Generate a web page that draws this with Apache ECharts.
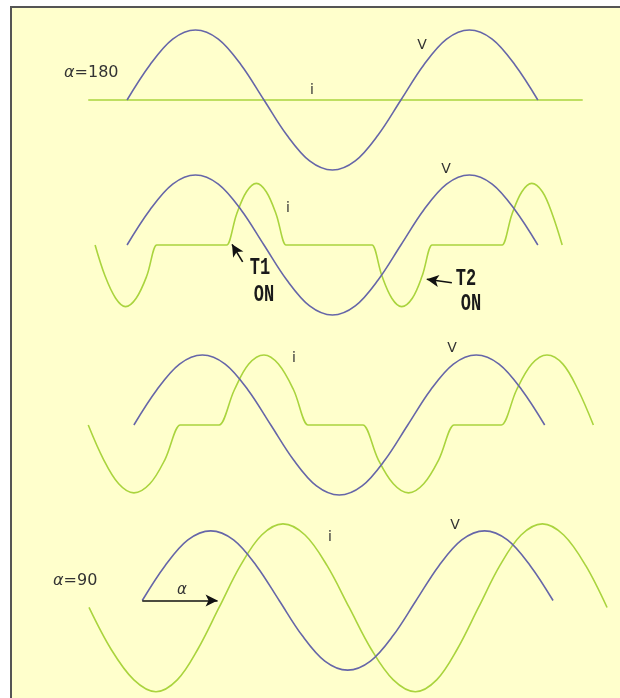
<!DOCTYPE html>
<html>
<head>
<meta charset="utf-8">
<script src="https://cdn.jsdelivr.net/npm/echarts@6/dist/echarts.min.js"></script>
<style>
  html, body { margin: 0; padding: 0; background: #ffffff; }
  #chart { width: 620px; height: 698px; }
</style>
</head>
<body>
<div id="chart"></div>
<script>
// x = phase in degrees (0 = start of the voltage wave), y = amplitude (1 = voltage peak)

// panel 1 : alpha = 180
const v1 = [[0,0],[30,0.5],[60,0.87],[90,1],[120,0.87],[150,0.5],[180,0],[210,-0.5],[240,-0.87],[270,-1],
  [300,-0.87],[330,-0.5],[360,0],[390,0.5],[420,0.87],[450,1],[480,0.87],[510,0.5],[540,0]];
const i1 = [[-51,0],[599,0]];

// panel 2 : T1 / T2 firing
const v2 = [[0,0],[30,0.5],[60,0.87],[90,1],[120,0.87],[150,0.5],[180,0],[210,-0.5],[240,-0.87],[270,-1],
  [300,-0.87],[330,-0.5],[360,0],[390,0.5],[420,0.87],[450,1],[480,0.87],[510,0.5],[540,0]];
const i2 = [[-42,0],[-29,-0.44],[-15,-0.76],[-2,-0.88],[12,-0.76],[26,-0.44],[39,0],[41,0],
  [129,0],[131,0],[144,0.44],[157,0.76],[170,0.88],[183,0.76],[196,0.44],[209,0],[211,0],
  [320,0],[322,0],[335,-0.44],[348,-0.76],[361,-0.88],[375,-0.76],[388,-0.44],[401,0],[403,0],
  [491,0],[493,0],[506,0.44],[519,0.76],[532,0.88],[546,0.76],[559,0.44],[572,0]];

// panel 3
const v3 = [[9,0],[39,0.5],[69,0.87],[99,1],[129,0.87],[159,0.5],[189,0],[219,-0.5],[249,-0.87],[279,-1],
  [309,-0.87],[339,-0.5],[369,0],[399,0.5],[429,0.87],[459,1],[489,0.87],[519,0.5],[549,0]];
const i3 = [[-51,0],[-31,-0.49],[-11,-0.84],[9,-0.97],[30,-0.84],[50,-0.49],[70,0],[72,0],
  [119,0],[121,0],[141,0.5],[160,0.87],[180,1],[199,0.87],[219,0.5],[238,0],[240,0],
  [308,0],[310,0],[330,-0.49],[350,-0.84],[370,-0.97],[390,-0.84],[410,-0.49],[430,0],[432,0],
  [490,0],[492,0],[512,0.5],[532,0.87],[552,1],[573,0.87],[593,0.5],[613,0]];

// panel 4 : alpha = 90
const v4 = [[20,0],[50,0.5],[80,0.87],[110,1],[140,0.87],[170,0.5],[200,0],[230,-0.5],[260,-0.87],[290,-1],
  [320,-0.87],[350,-0.5],[380,0],[410,0.5],[440,0.87],[470,1],[500,0.87],[530,0.5],[560,0]];
const i4 = [[-50,-0.1],[-21,-0.7],[9,-1.14],[38,-1.31],[66,-1.14],[93,-0.7],[121,-0.1],[149,0.5],
  [177,0.94],[205,1.1],[234,0.94],[263,0.5],[292,-0.1],[321,-0.7],[350,-1.14],[379,-1.31],
  [407,-1.14],[434,-0.7],[462,-0.1],[490,0.5],[518,0.94],[546,1.1],[574,0.94],[603,0.5],[631,-0.1]];

// arrows (first point = tip)
const t1Arrow = [[138, 0.01], [152, -0.24]];
const t2Arrow = [[394, -0.49], [427, -0.54]];
const alphaArrow = [[20, 0], [119, 0]];

const panelZero = [100, 245, 425, 601];

const blue = '#6666a8';
const green = '#aad43e';

const chart = echarts.init(document.getElementById('chart'));

const grids = panelZero.map(z => ({ left: 0, right: 0, top: z - 98, height: 196 }));
const xAxes = panelZero.map((z, k) => ({ type: 'value', gridIndex: k, min: -167, max: 648, show: false }));
const yAxes = panelZero.map((z, k) => ({ type: 'value', gridIndex: k, min: -1.4, max: 1.4, show: false }));

function wave(data, k, color, extra) {
  return Object.assign({
    type: 'line', xAxisIndex: k, yAxisIndex: k, data: data,
    smooth: 0.35, showSymbol: false, silent: true,
    lineStyle: { color: color, width: 1.6 }
  }, extra || {});
}

function arrows(list, symbol) {
  return {
    silent: true,
    symbol: symbol,
    symbolSize: [9, 12],
    label: { show: false },
    lineStyle: { color: '#111', width: 1.6, type: 'solid' },
    data: list.map(p => [{ coord: p[0] }, { coord: p[1] }])
  };
}

const SANS = '"DejaVu Sans", Verdana, sans-serif';

const sansText = (text, x, y) => ({
  type: 'text', x: x, y: y, z: 50,
  style: { text: text, fill: '#333', font: '14px ' + SANS, align: 'center', verticalAlign: 'middle' }
});
const monoText = (text, x, y) => ({
  type: 'text', x: x, y: y, z: 50, scaleY: 1.4,
  style: { text: text, fill: '#1a1a1a', font: 'bold 17px "Liberation Mono", monospace',
    align: 'center', verticalAlign: 'middle' }
});
const alphaText = (text, x, y) => ({
  type: 'text', x: x, y: y, z: 50,
  style: {
    text: '{a|α}{b|' + text + '}', verticalAlign: 'middle',
    rich: {
      a: { fill: '#333', font: 'italic 16px ' + SANS },
      b: { fill: '#333', font: '16px ' + SANS }
    }
  }
});

const option = {
  animation: false,
  backgroundColor: '#ffffff',
  grid: grids,
  xAxis: xAxes,
  yAxis: yAxes,
  graphic: [
    { type: 'rect', z: -10, shape: { x: 11, y: 7, width: 620, height: 700 },
      style: { fill: '#ffffcc', stroke: '#555', lineWidth: 2 } },
    alphaText('=180', 64, 73),
    sansText('V', 422, 45),
    sansText('i', 312, 90),
    sansText('V', 446, 169),
    sansText('i', 288, 208),
    monoText('T1', 260, 268),
    monoText('ON', 264, 295),
    monoText('T2', 466, 279),
    monoText('ON', 471, 304),
    sansText('i', 294, 358),
    sansText('V', 452, 348),
    alphaText('=90', 53, 581),
    { type: 'text', x: 182, y: 590, z: 50,
      style: { text: 'α', fill: '#333', font: 'italic 15px ' + SANS, align: 'center', verticalAlign: 'middle' } },
    sansText('i', 330, 537),
    sansText('V', 455, 525)
  ],
  series: [
    wave(i1, 0, green, { smooth: false }),
    wave(v1, 0, blue),
    wave(i2, 1, green, { markLine: arrows([t1Arrow, t2Arrow], ['arrow', 'none']) }),
    wave(v2, 1, blue),
    wave(i3, 2, green),
    wave(v3, 2, blue),
    wave(i4, 3, green),
    wave(v4, 3, blue, { markLine: arrows([alphaArrow], ['none', 'arrow']) })
  ]
};

chart.setOption(option);
</script>
</body>
</html>
